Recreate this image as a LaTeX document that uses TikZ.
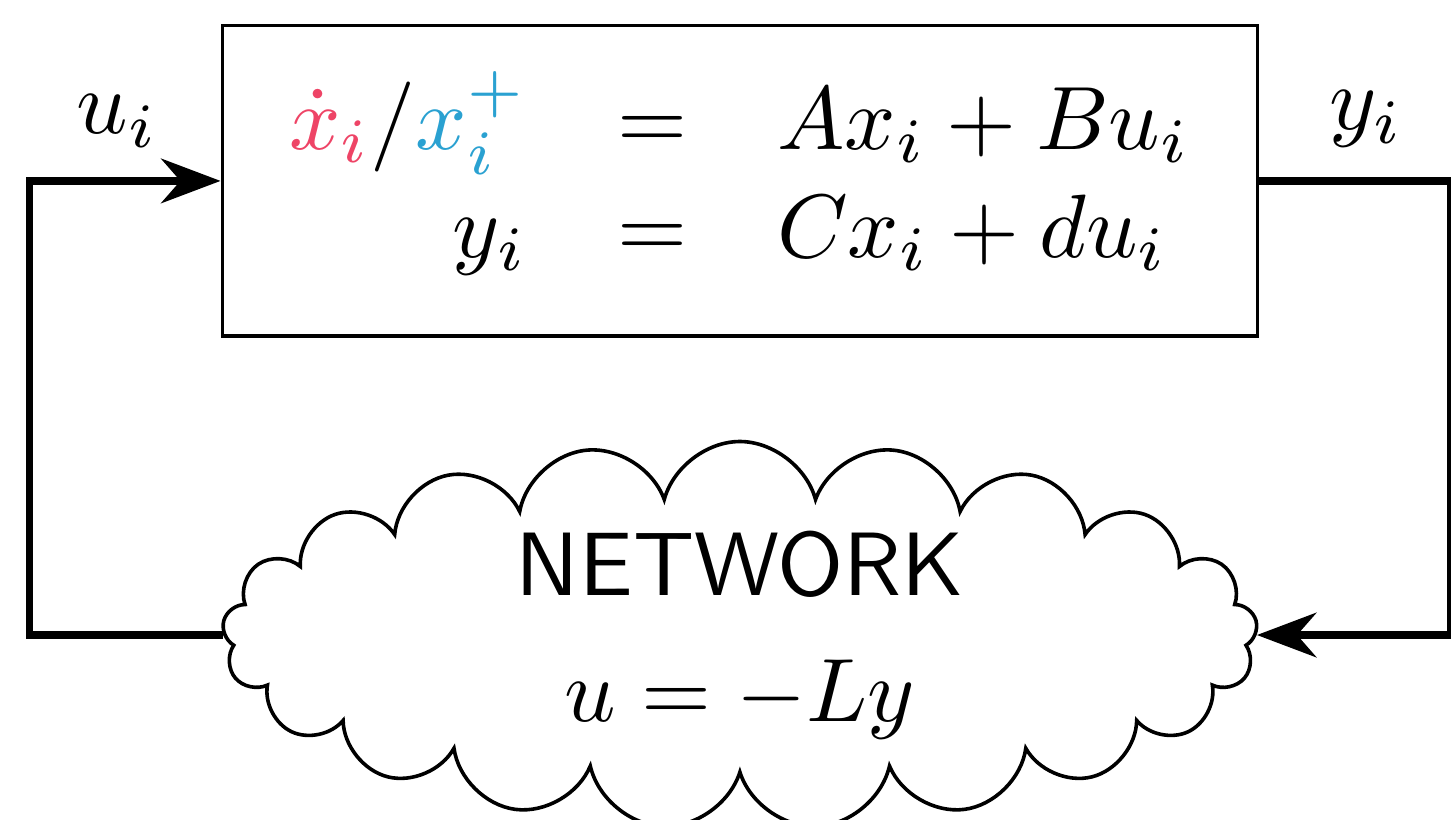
\documentclass[tikz,border=0pt]{standalone}
\usepackage{xcolor}
\definecolor{dotRed}   {HTML}{EE4466}
\definecolor{plusBlue} {HTML}{2AA1D1}
\usetikzlibrary{arrows.meta, positioning, shapes.symbols}
\tikzset{
    sysbox/.style={rectangle, draw, minimum width=115pt, minimum height=34.5pt,
                   inner sep=0pt},
    netcloud/.style={cloud, draw, cloud puffs=21, aspect=2.67,
                     minimum width=115pt, minimum height=43pt, inner sep=0pt,
                     align=center, font=\sffamily},
    flow/.style={->, >=Stealth, thick},
}
\begin{document}
\begin{tikzpicture}
    \useasboundingbox (0,0) rectangle (161.2pt,-91pt);
    \node[sysbox] (sys) at (82.2pt,-20.1pt)
        {$\begin{array}{rcl}
            {\color{dotRed}\dot{x}_i}/{\color{plusBlue}x_i^+} & = & Ax_i + Bu_i\\
            y_i & = & Cx_i + du_i
        \end{array}$};
    \node[netcloud, below=11.3pt of sys] (net) {NETWORK\\[2pt] $u = -Ly$};
    \coordinate[left=21.5pt of net.west] (lc);
    \coordinate[right=21.5pt of net.east] (rc);
    \draw[flow] (net.west) -- (lc) |- node[pos=0.73, above] {$u_i$} (sys.west);
    \draw[flow] (sys.east) -| node[pos=0.28, above] {$y_i$} (rc) -- (net.east);
\end{tikzpicture}
\end{document}
